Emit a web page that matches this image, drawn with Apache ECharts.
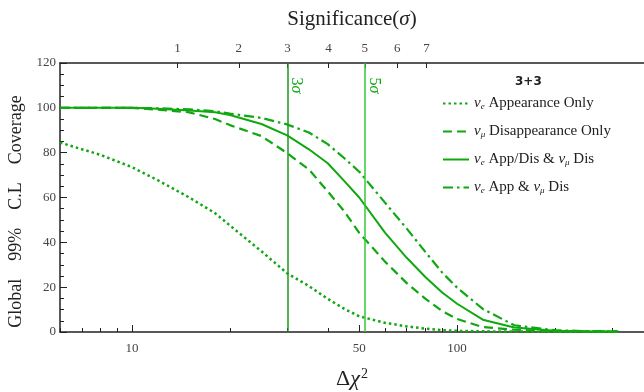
<!DOCTYPE html>
<html>
<head>
<meta charset="utf-8">
<script src="https://cdn.jsdelivr.net/npm/echarts@6/dist/echarts.min.js"></script>
<style>html,body{margin:0;padding:0;background:#fff;}#c{width:644px;height:392px;}</style>
</head>
<body>
<div id="c"></div>
<script>
// Δχ² sample points
const chi2 = [6, 8, 10, 12, 15, 18, 20, 25, 30, 35, 40, 45, 50, 60, 70, 80, 90, 100, 120, 150, 200, 250, 313];
// Coverage (%) for each configuration
const appOnly    = [84.5, 79.0, 73.5, 67.7, 60.0, 53.0, 47.5, 36.0, 26.2, 20.5, 14.8, 10.3, 7.0, 4.1, 2.5, 1.5, 0.8, 0.5, 0.3, 0.2, 0.1, 0.1, 0.1];
const disOnly    = [100, 100, 100, 99.2, 98.0, 95.0, 92.3, 87.4, 79.8, 72.5, 62.7, 53.8, 44.2, 31.4, 21.8, 14.8, 9.3, 5.8, 2.2, 1.0, 0.3, 0.2, 0.1];
const appDisDis  = [100, 100, 100, 99.6, 98.8, 98.0, 96.8, 92.8, 87.7, 81.5, 75.3, 67.3, 60.0, 44.3, 33.1, 24.4, 17.6, 12.6, 5.5, 2.0, 0.6, 0.3, 0.2];
const appDis     = [100, 100, 100, 99.8, 99.3, 98.5, 97.4, 95.5, 92.6, 89.0, 83.8, 77.5, 71.5, 57.7, 46.1, 35.6, 26.5, 19.8, 10.3, 3.0, 0.8, 0.4, 0.3];
const seriesNames = ['νe Appearance Only', 'νμ Disappearance Only', 'νe App/Dis & νμ Dis', 'νe App & νμ Dis'];
// axis ticks
const xMajor = [10, 50, 100];
const xMinor = [6, 7, 8, 9, 20, 30, 40, 60, 70, 80, 90, 200, 300];
const sigmaPos = [13.8, 21.3, 30.1, 40.2, 52.0, 65.4, 80.5];
const sigmaLabels = ['1', '2', '3', '4', '5', '6', '7'];
const sigmaLines = [30.1, 52.0];
const sigmaLineLabels = ['3', '5'];

const SERIF = '"Liberation Serif", "DejaVu Serif", serif';
const GREEN = '#10a810';
const lineColors = ['#1a9a1a', '#33c833'];

const legendRich = {
  'νe Appearance Only': '{nu|ν}{sub|e}{t| Appearance Only}',
  'νμ Disappearance Only': '{nu|ν}{sub|μ}{t| Disappearance Only}',
  'νe App/Dis & νμ Dis': '{nu|ν}{sub|e}{t| App/Dis & }{nu|ν}{sub|μ}{t| Dis}',
  'νe App & νμ Dis': '{nu|ν}{sub|e}{t| App & }{nu|ν}{sub|μ}{t| Dis}'
};

function pairs(vals) { return chi2.map((x, i) => [x, vals[i]]); }

const styles = [
  {type: [2.5, 3], width: 2.5},
  {type: [9, 5], width: 2.2},
  {type: 'solid', width: 2},
  {type: [10, 4, 2.5, 4], width: 2.2}
];
const datas = [appOnly, disOnly, appDisDis, appDis];

const series = datas.map((d, i) => ({
  name: seriesNames[i],
  type: 'line',
  symbol: 'none',
  xAxisIndex: 0,
  yAxisIndex: 0,
  data: pairs(d),
  lineStyle: {color: GREEN, type: styles[i].type, width: styles[i].width},
  itemStyle: {color: GREEN},
  z: 3
}));

sigmaLines.forEach((xv, k) => {
  series.push({
    type: 'line',
    name: 'sigma' + sigmaLineLabels[k],
    xAxisIndex: 0,
    yAxisIndex: 0,
    data: [],
    symbol: 'none',
    silent: true,
    color: lineColors[k],
    markLine: {
      symbol: 'none',
      silent: true,
      label: {show: false},
      lineStyle: {color: lineColors[k], width: 1.5, type: 'solid', opacity: 1},
      data: [{xAxis: xv}]
    },
    markPoint: {
      symbol: 'circle',
      symbolSize: 0,
      silent: true,
      data: [{coord: [xv, 110]}],
      label: {
        show: true, position: 'inside', rotate: -90, offset: [0, -9],
        formatter: '{n|' + sigmaLineLabels[k] + '}{s|σ}',
        rich: {
          n: {color: GREEN, fontFamily: SERIF, fontSize: 16},
          s: {color: GREEN, fontFamily: SERIF, fontSize: 16, fontStyle: 'italic'}
        }
      }
    }
  });
});

const option = {
  animation: false,
  backgroundColor: '#fff',
  title: {
    text: '3+3', left: 510, top: 71,
    textStyle: {fontFamily: '"DejaVu Sans", sans-serif', fontSize: 12, fontWeight: 'bold', color: '#222'}
  },
  grid: {left: 60, right: 0, top: 63, bottom: 60, outerBoundsMode: 'none', containLabel: false},
  legend: {
    orient: 'vertical', left: 437, top: 91,
    itemWidth: 26, itemHeight: 14, itemGap: 13,
    data: seriesNames,
    itemStyle: {opacity: 0},
    formatter: n => legendRich[n],
    textStyle: {
      color: '#222',
      rich: {
        nu: {fontFamily: SERIF, fontStyle: 'italic', fontSize: 15, color: '#222'},
        sub: {fontFamily: SERIF, fontStyle: 'italic', fontSize: 9, color: '#222', padding: [6, 0, 0, 0]},
        t: {fontFamily: SERIF, fontSize: 15, color: '#222'}
      }
    }
  },
  xAxis: [
    {
      type: 'log', min: 6, max: 376, position: 'bottom',
      name: 'Δ{i|χ}{p|2}', nameLocation: 'middle', nameGap: 35,
      nameTextStyle: {fontFamily: SERIF, fontSize: 22, color: '#222',
        rich: {
          i: {fontFamily: SERIF, fontSize: 22, fontStyle: 'italic', color: '#222'},
          p: {fontFamily: SERIF, fontSize: 14, color: '#222', padding: [0, 0, 10, 1]}
        }},
      axisLine: {show: true, lineStyle: {color: '#222', width: 1.5}},
      axisTick: {show: true, inside: true, length: 7, customValues: xMajor, lineStyle: {color: '#222'}},
      axisLabel: {customValues: xMajor, formatter: v => String(Math.round(v)), fontFamily: SERIF, fontSize: 13, color: '#444', margin: 10},
      splitLine: {show: false}, minorTick: {show: false}
    },
    {
      type: 'log', min: 6, max: 376, position: 'top',
      name: 'Significance({i|σ})', nameLocation: 'middle', nameGap: 33,
      nameTextStyle: {fontFamily: SERIF, fontSize: 21, color: '#222',
        rich: {i: {fontFamily: SERIF, fontSize: 21, fontStyle: 'italic', color: '#222'}}},
      axisLine: {show: true, lineStyle: {color: '#222', width: 1.5}},
      axisTick: {show: true, inside: true, length: 5, customValues: sigmaPos, lineStyle: {color: '#222'}},
      axisLabel: {customValues: sigmaPos, formatter: v => sigmaLabels[sigmaPos.indexOf(v)] || '', fontFamily: SERIF, fontSize: 13, color: '#444', margin: 8},
      splitLine: {show: false}
    },
    {
      type: 'log', min: 6, max: 376, position: 'bottom',
      axisLine: {show: false},
      axisTick: {show: true, inside: true, length: 4, customValues: xMinor, lineStyle: {color: '#222'}},
      axisLabel: {show: false},
      splitLine: {show: false}
    }
  ],
  yAxis: [{
    type: 'value', min: 0, max: 120, interval: 20,
    name: 'Global    99%    C.L    Coverage', nameLocation: 'middle', nameGap: 35, nameRotate: 90,
    nameTextStyle: {fontFamily: SERIF, fontSize: 18, color: '#222', padding: [0, 0, 0, -28]},
    axisLine: {show: true, lineStyle: {color: '#222', width: 1.5}},
    axisTick: {show: true, inside: true, length: 7, lineStyle: {color: '#222'}},
    minorTick: {show: true, splitNumber: 4, length: 4, lineStyle: {color: '#222'}},
    axisLabel: {fontFamily: SERIF, fontSize: 13, color: '#444', margin: 4},
    splitLine: {show: false}
  }],
  series: series
};

const chart = echarts.init(document.getElementById('c'), null, {renderer: 'canvas'});
chart.setOption(option);
</script>
</body>
</html>
